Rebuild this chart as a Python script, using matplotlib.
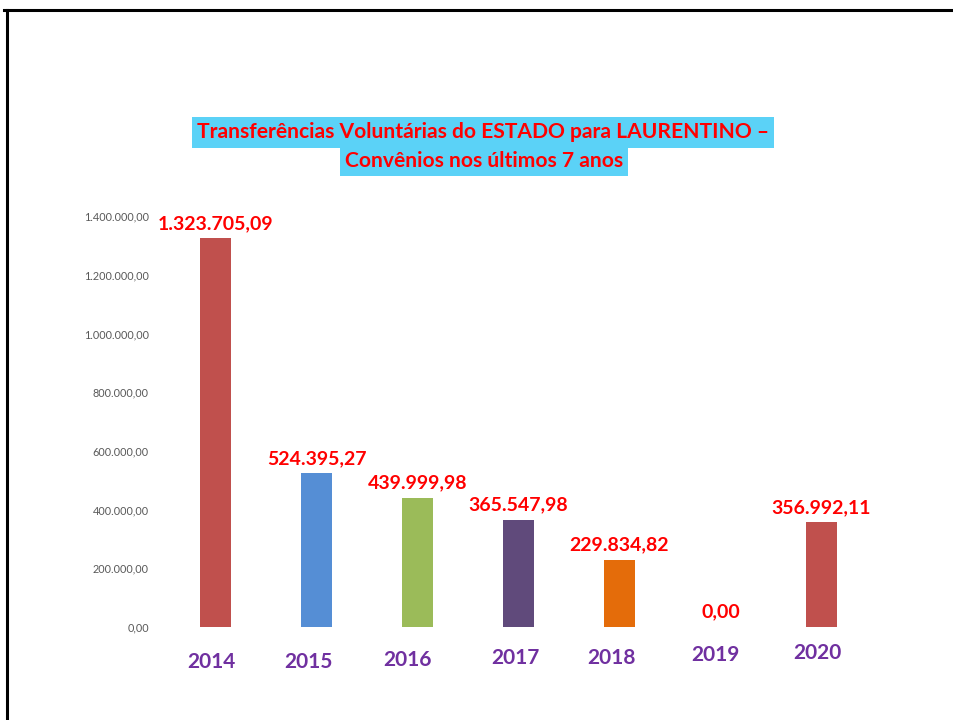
import matplotlib
matplotlib.use("Agg")
import matplotlib.pyplot as plt
from matplotlib.lines import Line2D
import matplotlib.transforms as mtransforms

plt.rcParams['font.family'] = ['Lato', 'DejaVu Sans']

years = ["2014", "2015", "2016", "2017", "2018", "2019", "2020"]
values = [1323705.09, 524395.27, 439999.98, 365547.98, 229834.82, 0.00, 356992.11]
value_labels = ["1.323.705,09", "524.395,27", "439.999,98", "365.547,98",
                "229.834,82", "0,00", "356.992,11"]
bar_colors = ["#C0504D", "#558ED5", "#9BBB59", "#604A7B", "#E46C0A", "#C0504D", "#C0504D"]
yticks = [0, 200000, 400000, 600000, 800000, 1000000, 1200000, 1400000]
ytick_labels = ["0,00", "200.000,00", "400.000,00", "600.000,00", "800.000,00",
                "1.000.000,00", "1.200.000,00", "1.400.000,00"]
title_lines = ["Transferências Voluntárias do ESTADO para LAURENTINO –",
               "Convênios nos últimos 7 anos"]

# small vertical offsets (pt) of year labels as placed in the reference
year_offsets = [0, 0, 1.5, 3.5, 3.5, 5, 6.5]
year_dx = [-3, -6, -7, -2, -6, -4, -3]

W, H = 954, 720
fig = plt.figure(figsize=(W / 100, H / 100), dpi=100)

# border lines
fig.add_artist(Line2D([4 / W, 1.0], [1 - 10 / H, 1 - 10 / H], color="black", lw=2.2,
                      transform=fig.transFigure))
fig.add_artist(Line2D([7.5 / W, 7.5 / W], [0, 1 - 10 / H], color="black", lw=2.2,
                      transform=fig.transFigure))

ax_left, ax_right = 160, 880
ax_bottom, ax_top = 627, 216
ax = fig.add_axes([ax_left / W, 1 - ax_bottom / H, (ax_right - ax_left) / W,
                   (ax_bottom - ax_top) / H])

x = list(range(len(years)))
ax.bar(x, values, width=0.31, color=bar_colors)
ax.set_ylim(0, 1400000)
ax.set_xlim((ax_left - 215.5) / 101.0, (ax_right - 215.5) / 101.0)
ax.set_yticks(yticks)
ax.set_yticklabels(ytick_labels, fontsize=7.8, color="#595959")
ax.tick_params(axis='y', length=0, pad=8)
ax.set_xticks([])
for s in ax.spines.values():
    s.set_visible(False)

for xi, v, lab in zip(x, values, value_labels):
    ax.annotate(lab, (xi, v), xytext=(0, 4.5), textcoords="offset points",
                ha="center", va="bottom", fontsize=14, fontweight="bold", color="#FF0000")

trans = mtransforms.blended_transform_factory(ax.transData, ax.transAxes)
for xi, yr, dy, dx in zip(x, years, year_offsets, year_dx):
    ax.annotate(yr, (xi, 0), xycoords=trans, xytext=(dx, -25.5 + dy),
                textcoords="offset points", ha="center", va="center",
                fontsize=15, fontweight="bold", color="#7030A0")

fig.text(483 / W, 1 - 132.5 / H, title_lines[0], ha="center", va="center",
         fontsize=15.1, fontweight="bold", color="#FF0000",
         bbox=dict(facecolor="#5BD2F7", edgecolor="none", pad=3.6))
fig.text(484 / W, 1 - 161 / H, title_lines[1], ha="center", va="center",
         fontsize=15.1, fontweight="bold", color="#FF0000",
         bbox=dict(facecolor="#5BD2F7", edgecolor="none", pad=3.6))

fig.savefig("out.png", dpi=100, facecolor="white")
